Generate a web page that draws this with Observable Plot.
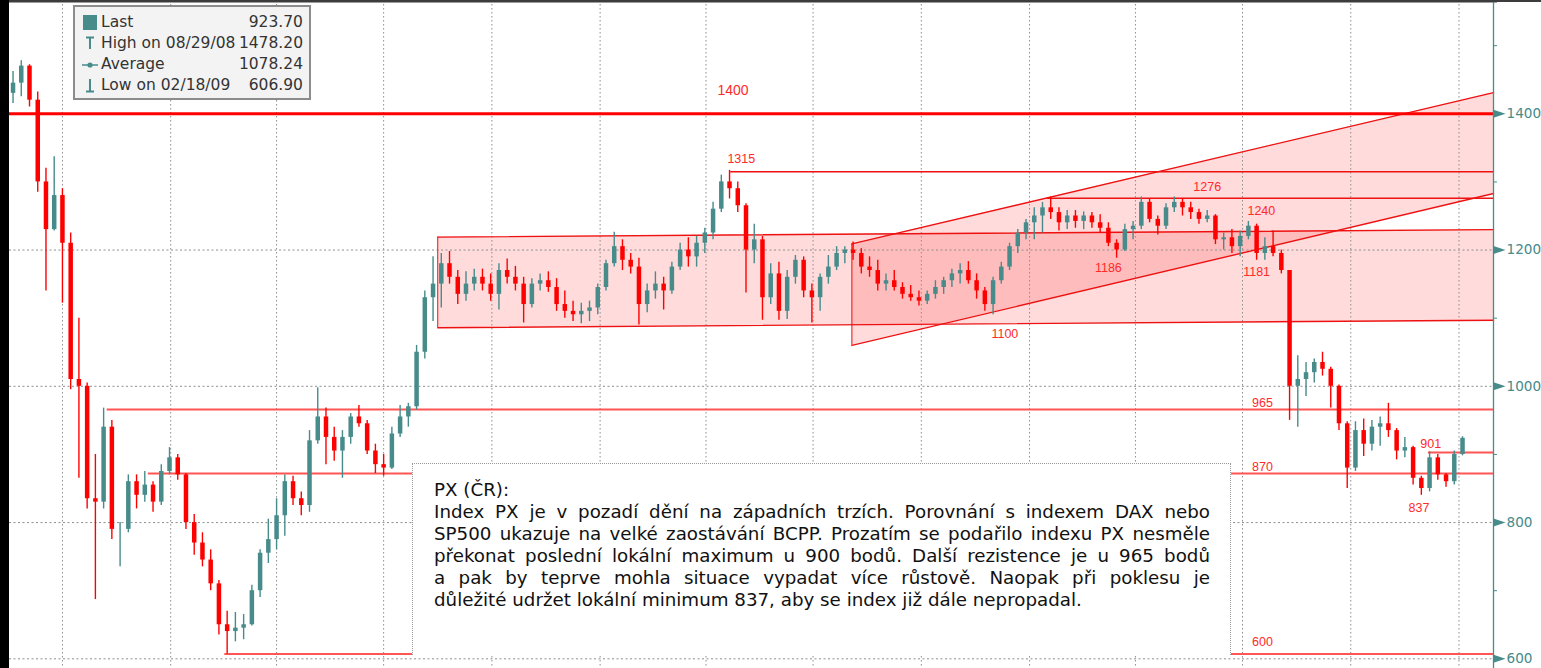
<!DOCTYPE html>
<html>
<head>
<meta charset="utf-8">
<script src="https://cdn.jsdelivr.net/npm/d3@7"></script>
<script src="https://cdn.jsdelivr.net/npm/@observablehq/plot@0.6"></script>
<style>
  html, body { margin: 0; padding: 0; background: #fff; }
  #wrap { position: relative; width: 1541px; height: 668px; overflow: hidden; background: #fff; }
  #chart { position: absolute; left: 0; top: 0; z-index: 1; }
  #chart svg { display: block; }
  #topbar { position: absolute; left: 0; top: 0; width: 1541px; height: 2px; background: #3c3c3c; z-index: 10; }
  #leftbar { position: absolute; left: 0; top: 0; width: 9px; height: 668px; background: #000; z-index: 10; }
  #legend { position: absolute; z-index: 5; left: 73px; top: 5px; width: 234px; height: 91px; border: 2px solid #8c8c8c;
            background: #f3f3f3; font-family: "DejaVu Sans", sans-serif; font-size: 15.5px; color: #333; }
  #legend .row { position: absolute; left: 0; width: 234px; height: 21px; line-height: 21px; }
  #legend .icon { position: absolute; left: 6px; top: 0; width: 18px; height: 21px; }
  #legend .lab { position: absolute; left: 26px; top: 0; white-space: nowrap; }
  #legend .val { position: absolute; right: 6px; top: 0; white-space: nowrap; }
  #note { position: absolute; z-index: 5; left: 412px; top: 463px; width: 776px; height: 170px; padding: 15px 20px 6px 21px;
          background: #fff; border: 1px dotted #9a9a9a; border-bottom: none;
          font-family: "DejaVu Sans", sans-serif; font-size: 18.25px; line-height: 22px; color: #111; }
  #note .ln { text-align: justify; text-align-last: justify; }
  #note .last { text-align: left; text-align-last: left; }
</style>
</head>
<body>
<div id="wrap">
  <div id="chart"></div>
  <div id="topbar"></div>
  <div id="leftbar"></div>
  <div id="legend"></div>
  <div id="note"></div>
</div>
<script>
// ---------- data: weekly OHLC ----------
const firstWeek = "2008-08-20";
const opens = [1430,1445,1470,1420,1300,1230,1280,1210,1010,1000,835,830,940,790,790,860,840,855,830,875,
  895,870,800,770,745,710,650,640,645,650,700,755,775,810,860,835,825,920,955,925,
  905,925,955,945,905,885,880,930,955,970,1050,1130,1150,1180,1160,1135,1150,1160,1150,1135,
  1170,1160,1150,1120,1150,1155,1145,1120,1110,1105,1110,1115,1145,1180,1205,1185,1175,1120,1140,1150,
  1140,1175,1200,1190,1210,1225,1260,1300,1290,1265,1200,1215,1130,1165,1110,1160,1185,1140,1130,1160,
  1175,1195,1200,1195,1175,1170,1150,1155,1145,1135,1130,1125,1135,1145,1155,1165,1170,1155,1140,1120,
  1155,1175,1205,1225,1240,1250,1262,1255,1240,1250,1242,1250,1240,1232,1210,1200,1230,1235,1270,1245,
  1235,1262,1270,1262,1255,1245,1250,1215,1218,1205,1220,1235,1195,1205,1195,1170,1000,1010,1020,1035,
  1025,1000,945,880,935,915,940,945,935,905,910,865,850,895,870,860,900];
const highs = [1462,1478,1472,1432,1320,1337,1290,1225,1100,1005,900,968,950,800,870,870,875,860,885,910,
  900,872,812,785,760,715,670,668,665,708,760,805,835,870,868,845,935,998,968,940,
  935,960,972,950,915,900,940,972,975,1060,1140,1190,1195,1198,1170,1168,1172,1172,1165,1180,
  1187,1176,1160,1158,1165,1168,1158,1140,1125,1122,1125,1150,1185,1226,1215,1195,1188,1150,1168,1160,
  1182,1210,1218,1220,1232,1270,1310,1317,1300,1268,1238,1220,1180,1182,1170,1192,1190,1150,1165,1192,
  1205,1205,1212,1202,1190,1185,1165,1170,1152,1148,1140,1140,1155,1160,1172,1180,1183,1165,1145,1160,
  1182,1210,1230,1245,1262,1270,1278,1262,1258,1258,1256,1255,1252,1240,1215,1238,1242,1278,1275,1250,
  1268,1278,1275,1270,1260,1258,1252,1225,1230,1228,1242,1238,1218,1228,1200,1170,1045,1035,1040,1050,
  1028,1002,948,948,952,950,955,975,938,925,912,868,904,900,872,905,926];
const lows = [1415,1425,1410,1285,1140,1228,1122,995,865,820,687,820,775,735,785,820,830,815,825,870,
  862,790,752,735,700,635,607,625,628,648,690,740,760,780,825,810,815,915,885,890,
  865,915,940,900,872,868,878,925,940,965,1040,1095,1115,1150,1120,1125,1140,1140,1125,1112,
  1150,1140,1093,1115,1140,1138,1110,1100,1095,1092,1095,1105,1140,1175,1170,1165,1090,1108,1128,1112,
  1135,1170,1175,1175,1195,1215,1255,1275,1255,1137,1180,1097,1120,1097,1098,1150,1130,1093,1110,1150,
  1170,1180,1185,1165,1160,1140,1140,1140,1128,1125,1118,1120,1128,1135,1145,1150,1150,1128,1110,1105,
  1150,1170,1195,1215,1215,1225,1245,1228,1230,1232,1230,1232,1225,1205,1188,1198,1215,1230,1240,1222,
  1230,1255,1250,1245,1238,1240,1208,1200,1195,1190,1215,1185,1185,1190,1165,950,940,985,1005,1015,
  968,935,850,875,897,905,912,925,892,895,855,840,845,862,852,855,898];
const closes = [1445,1470,1420,1300,1230,1280,1210,1010,1000,835,830,940,790,790,860,840,855,830,875,895,
  870,800,770,745,710,650,640,645,650,700,755,775,810,860,835,825,920,955,925,905,
  925,955,945,905,885,880,930,955,970,1050,1130,1150,1180,1160,1135,1150,1160,1150,1135,1170,
  1160,1150,1120,1150,1155,1145,1120,1110,1105,1110,1115,1145,1180,1205,1185,1175,1120,1140,1150,1140,
  1175,1200,1190,1210,1225,1260,1300,1290,1265,1200,1215,1130,1165,1110,1160,1185,1140,1130,1160,1175,
  1195,1200,1195,1175,1170,1150,1155,1145,1135,1130,1125,1135,1145,1155,1165,1170,1155,1140,1120,1155,
  1175,1205,1225,1240,1250,1262,1255,1240,1250,1242,1250,1240,1232,1210,1200,1230,1235,1270,1245,1235,
  1262,1270,1262,1255,1245,1250,1215,1218,1205,1220,1235,1195,1205,1195,1170,1000,1010,1020,1035,1025,
  1000,945,880,935,915,940,945,935,905,910,865,850,895,870,860,900,923.7];

// quarter gridlines and price gridlines
const quarterTicks = ["2008-10-01","2009-01-01","2009-04-01","2009-07-01","2009-10-01","2010-01-01","2010-04-01",
  "2010-07-01","2010-10-01","2011-01-01","2011-04-01","2011-07-01","2011-10-01","2012-01-01"];
const majorTicks = [600, 800, 1000, 1200, 1400];
const minorTicks = [700, 900, 1100, 1300, 1500];

// drawn analysis: horizontal levels
const topLevel = 1400;
const resistValues = [1315, 1276];
const resistStarts = ["2010-04-22", "2011-01-16"];
const supportValues = [966, 872, 607, 903];
const supportStarts = ["2008-11-08", "2008-12-13", "2009-02-16", "2011-12-06"];

// channels (start date, value at start, value at right edge)
const rangeStart = "2009-08-16";
const rangeTop = [1219, 1230];
const rangeBottom = [1086, 1097];
const trendStart = "2010-08-03";
const trendTop = [1209, 1431];
const trendBottom = [1060, 1283];

// annotation labels
const labelTexts = ["1400","1315","1276","1240","1186","1181","1100","965","870","600","901","837"];
const labelDates = ["2010-04-24","2010-05-01","2011-06-01","2011-07-17","2011-03-09","2011-07-13","2010-12-11",
  "2011-07-18","2011-07-18","2011-07-18","2011-12-08","2011-11-28"];
const labelValues = [1434, 1334, 1292, 1258, 1174, 1168, 1077, 976, 881, 624, 915, 821];

// legend
const legendLabels = ["Last", "High on 08/29/08", "Average", "Low on 02/18/09"];
const legendValues = ["923.70", "1478.20", "1078.24", "606.90"];

// note text (one entry per printed line)
const noteLines = [
  "PX (ČR):",
  "Index PX je v pozadí dění na západních trzích. Porovnání s\u00a0indexem DAX nebo",
  "SP500 ukazuje na velké zaostávání BCPP. Prozatím se podařilo indexu PX nesměle",
  "překonat poslední lokální maximum u 900 bodů. Další rezistence je u 965 bodů",
  "a\u00a0pak by teprve mohla situace vypadat více růstově. Naopak při poklesu je",
  "důležité udržet lokální minimum 837, aby se index již dále nepropadal."
];

// ---------- build ----------
const TEAL = "#478b8b", RED = "#ff0000", RED2 = "#ff5555";
const yMin = 585.8, yMax = 1566.3;
const xStart = new Date("2008-08-17T00:00Z"), xEnd = new Date("2012-01-30T08:00Z");
const D = s => new Date(s + "T00:00Z");

const bars = opens.map((o, i) => ({
  date: d3.utcDay.offset(D(firstWeek), 7 * i), open: o, high: highs[i], low: lows[i], close: closes[i]
}));
const ups = bars.filter(b => b.close >= b.open);
const downs = bars.filter(b => b.close < b.open);

const rangeCh = [{date: D(rangeStart), top: rangeTop[0], bottom: rangeBottom[0]},
                 {date: xEnd, top: rangeTop[1], bottom: rangeBottom[1]}];
const trendCh = [{date: D(trendStart), top: trendTop[0], bottom: trendBottom[0]},
                 {date: xEnd, top: trendTop[1], bottom: trendBottom[1]}];
const resist = resistValues.map((v, i) => ({v, start: D(resistStarts[i])}));
const support = supportValues.map((v, i) => ({v, start: D(supportStarts[i])}));
const labels = labelTexts.map((t, i) => ({t, date: D(labelDates[i]), v: labelValues[i]}));

const tickEnd = d3.utcHour.offset(xEnd, 82);
const flag = {draw(ctx) { ctx.moveTo(0, -4); ctx.lineTo(12, 0); ctx.lineTo(0, 4); ctx.closePath(); }};

const chart = Plot.plot({
  width: 1541, height: 668,
  marginLeft: 9, marginRight: 48, marginTop: 0, marginBottom: 0,
  x: {type: "utc", domain: [xStart, xEnd], axis: null},
  y: {domain: [yMin, yMax], axis: null},
  style: {background: "#fff", overflow: "visible", fontFamily: "DejaVu Sans"},
  marks: [
    Plot.areaY(rangeCh, {x: "date", y1: "bottom", y2: "top", fill: RED, fillOpacity: 0.14}),
    Plot.areaY(trendCh, {x: "date", y1: "bottom", y2: "top", fill: RED, fillOpacity: 0.14}),
    Plot.ruleX(quarterTicks.map(D), {stroke: "#8e8e8e", strokeDasharray: "1.5,2.5", strokeWidth: 1}),
    Plot.ruleY(majorTicks, {stroke: "#8e8e8e", strokeDasharray: "2,2.5", strokeWidth: 1}),
    Plot.line(rangeCh, {x: "date", y: "top", stroke: "#ee1111", strokeWidth: 1.4}),
    Plot.line(rangeCh, {x: "date", y: "bottom", stroke: "#ee1111", strokeWidth: 1.4}),
    Plot.ruleX(rangeCh.slice(0, 1), {x: "date", y1: "bottom", y2: "top", stroke: "#ee1111", strokeWidth: 1}),
    Plot.line(trendCh, {x: "date", y: "top", stroke: "#ee1111", strokeWidth: 1.4}),
    Plot.line(trendCh, {x: "date", y: "bottom", stroke: "#ee1111", strokeWidth: 1.4}),
    Plot.ruleX(trendCh.slice(0, 1), {x: "date", y1: "bottom", y2: "top", stroke: "#ee1111", strokeWidth: 1}),
    Plot.ruleY([topLevel], {stroke: RED, strokeWidth: 3}),
    Plot.ruleY(resist, {y: "v", x1: "start", x2: () => xEnd, stroke: "#ee1111", strokeWidth: 1.4}),
    Plot.ruleY(support, {y: "v", x1: "start", x2: () => xEnd, stroke: RED2, strokeWidth: 2}),
    // candles
    Plot.ruleX(ups, {x: "date", y1: "low", y2: "high", stroke: TEAL, strokeWidth: 1.4}),
    Plot.ruleX(downs, {x: "date", y1: "low", y2: "high", stroke: RED, strokeWidth: 1.4}),
    Plot.ruleX(ups, {x: "date", y1: "open", y2: "close", stroke: TEAL, strokeWidth: 4.5}),
    Plot.ruleX(downs, {x: "date", y1: "open", y2: "close", stroke: RED, strokeWidth: 4.5}),
    // annotations
    Plot.text(labels, {x: "date", y: "v", text: "t", fill: "#ff2a2a",
      fontSize: (d) => d.t === "1400" ? 14 : 12.5, fontFamily: "Liberation Sans"}),
    // frame decorations (black left strip, dark top edge)
    Plot.rect([0], {x1: () => d3.utcDay.offset(xStart, -9), x2: () => xStart, y1: () => yMin, y2: () => yMax, fill: "#000"}),
    Plot.ruleY([yMax], {x1: () => d3.utcDay.offset(xStart, -9), x2: () => tickEnd, dy: 1, stroke: "#3c3c3c", strokeWidth: 2}),
    // right axis
    Plot.ruleX([xEnd], {stroke: TEAL, strokeWidth: 1.3}),
    Plot.ruleY(minorTicks, {x1: () => xEnd, x2: () => tickEnd, stroke: TEAL, strokeWidth: 1}),
    Plot.dot(majorTicks, {x: () => xEnd, y: d => d, symbol: flag, r: 4, fill: TEAL, stroke: "none"}),
    Plot.text(majorTicks, {x: () => xEnd, y: d => d, text: d => String(d), dx: 13, textAnchor: "start",
      fill: TEAL, fontSize: 13.6, fontFamily: "DejaVu Sans"})
  ]
});
document.getElementById("chart").appendChild(chart);

// legend
const icons = [
  '<svg width="18" height="21"><rect x="2" y="3" width="14" height="15" fill="' + TEAL + '"/></svg>',
  '<svg width="18" height="21"><path d="M5 4.5H13M9 4.5V16" stroke="' + TEAL + '" stroke-width="2" fill="none"/></svg>',
  '<svg width="18" height="21"><path d="M1 11H17" stroke="' + TEAL + '" stroke-width="1.5"/><circle cx="9" cy="11" r="2.6" fill="' + TEAL + '"/></svg>',
  '<svg width="18" height="21"><path d="M9 4V16.5M5 16.5H13" stroke="' + TEAL + '" stroke-width="2" fill="none"/></svg>'
];
const legend = document.getElementById("legend");
legendLabels.forEach((lab, i) => {
  const row = document.createElement("div");
  row.className = "row";
  row.style.top = (5 + i * 21) + "px";
  row.innerHTML = '<div class="icon">' + icons[i] + '</div><div class="lab">' + lab +
    '</div><div class="val">' + legendValues[i] + '</div>';
  legend.appendChild(row);
});

// note
const note = document.getElementById("note");
noteLines.forEach((t, i) => {
  const el = document.createElement("div");
  el.className = "ln" + (i === 0 || i === noteLines.length - 1 ? " last" : "");
  el.textContent = t;
  note.appendChild(el);
});
</script>
</body>
</html>
